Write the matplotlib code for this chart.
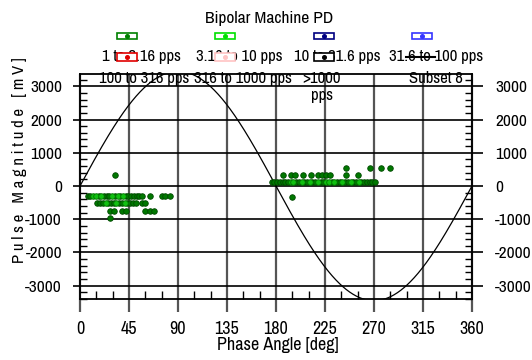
import numpy as np
import matplotlib
matplotlib.use("Agg")
import matplotlib.pyplot as plt
from matplotlib.patches import Rectangle
from matplotlib.ticker import MultipleLocator

plt.rcParams['font.family'] = ['Liberation Sans Narrow', 'Archivo Narrow', 'DejaVu Sans']

title = "Bipolar Machine PD"
x_label = "Phase Angle [deg]"
y_label = "Pulse Magnitude [mV]"

phase_ticks = [0, 45, 90, 135, 180, 225, 270, 315, 360]
mag_ticks = [-3000, -2000, -1000, 0, 1000, 2000, 3000]

legend_row1 = ["1 to 3.16 pps", "3.16 to 10 pps", "10 to 31.6 pps", "31.6 to 100 pps"]
legend_row2 = ["100 to 316 pps", "316 to 1000 pps", ">1000\npps", "Subset 8"]
colors_row1 = ["#008000", "#00e000", "#000080", "#3535ff"]
colors_row2 = ["#e00000", "#ffc4c4", "#000000", None]

# reference AC voltage, mV peak
sine_amp = 3450

# 1 to 3.16 pps
phase_a = [7, 9.5, 17, 22, 24.5, 27, 32, 37, 42, 44.5, 47, 49.5, 52, 54.5, 57, 64, 75, 78.5, 82.5,
           16, 18.5, 21, 26, 28.5, 31, 36, 38.5, 43.5, 46, 48.5, 51, 56.5, 60,
           27.5, 31.5, 38.5, 42, 60, 64, 68,
           32, 27.5,
           176, 178.5, 181, 183.5, 186, 188.5, 191, 198.5, 201, 206, 208.5, 213.5, 216, 221,
           223.5, 231, 236, 238.5, 243.5, 246, 251, 253.5, 258.5, 261, 263.5, 266, 268.5, 271,
           186.5, 193.5, 197.5, 205, 212, 219, 222, 225.5, 230, 244.5, 255.5,
           244.5, 266.5, 276, 285,
           194.5]
mag_a = [-300] * 19 + [-520] * 14 + [-740] * 7 + [330, -950] + [110] * 28 + [330] * 11 + [530] * 4 + [-320]

# 3.16 to 10 pps
phase_b = [12, 14.5, 19.5, 29.5, 34.5, 39.5,
           23.5, 33.5, 41,
           193.5, 196, 203.5, 211, 218.5, 226, 228.5, 233.5, 241, 248.5, 256]
mag_b = [-300] * 6 + [-520] * 3 + [110] * 11


def spaced(text, gap=" "):
    return gap.join(text)


fig = plt.figure(figsize=(5.32, 3.6), dpi=100)
W, H = 532, 360
ax = fig.add_axes([80 / W, 1 - 299 / H, 392 / W, 225 / H])
ax.set_xlim(0, 360)
ax.set_ylim(-3400, 3370)

# grid lines run past the frame
ax.vlines(phase_ticks, -3800, 3370, colors="#555555", lw=1.6, clip_on=False, zorder=1)
ax.hlines(mag_ticks, -6.5, 370, colors="black", lw=1.2, clip_on=False, zorder=1)

phase = np.linspace(0, 360, 721)
ax.plot(phase, sine_amp * np.sin(np.radians(phase)), color="black", lw=0.9, zorder=2)

ax.plot(phase_a, mag_a, "o", ms=4, mfc="#007800", mec="#004800", mew=0.6, zorder=4)
ax.plot(phase_b, mag_b, "o", ms=4, mfc="#10c010", mec="#007000", mew=0.6, zorder=4)

for s in ax.spines.values():
    s.set_linewidth(1.3)
    s.set_color("black")

ax.set_xticks(phase_ticks)
ax.set_xticklabels([str(v) for v in phase_ticks])
ax.set_yticks(mag_ticks)
ax.set_yticklabels([str(v) for v in mag_ticks])
ax.xaxis.set_minor_locator(MultipleLocator(15))
ax.yaxis.set_minor_locator(MultipleLocator(200))
ax.tick_params(which="major", length=0)
ax.tick_params(axis="x", which="major", pad=16, labelsize=13)
ax.tick_params(axis="y", which="major", labelsize=12.5, right=True, labelright=True)
ax.tick_params(which="minor", direction="in", width=1.0, color="black")
ax.tick_params(axis="x", which="minor", length=5.8, top=False)
ax.tick_params(axis="y", which="minor", length=5.2, left=True, right=True)
for t in ax.yaxis.get_major_ticks():
    t.label1.set_transform(ax.get_yaxis_transform())
    t.label1.set_x(-18 / 392)
    t.label1.set_horizontalalignment("right")
    t.label2.set_transform(ax.get_yaxis_transform())
    t.label2.set_x(1 + 23 / 392)
    t.label2.set_horizontalalignment("left")

fig.text(269 / W, 1 - 18.5 / H, title, ha="center", va="center", fontsize=12.5)
fig.text(278 / W, 1 - 345 / H, x_label, ha="center", va="center", fontsize=13)
fig.text(19.5 / W, 1 - 160 / H, spaced(y_label), rotation=90,
         ha="center", va="center", fontsize=12)

# legend, drawn in figure pixel space
lax = fig.add_axes([0, 0, 1, 1], zorder=5)
lax.set_xlim(0, W)
lax.set_ylim(H, 0)
lax.axis("off")
lax.patch.set_alpha(0)

col_x0, col_dx = 127, 98.3
row2_dx = [17, 18, -2, 14]
for i in range(4):
    cx = col_x0 + i * col_dx
    lax.text(cx + 14, 61, legend_row1[i], ha="center", va="baseline", fontsize=12, zorder=1)
    if i == 2:
        lax.text(cx + row2_dx[i], 71, legend_row2[i], ha="center", va="top", fontsize=12,
                 zorder=1, linespacing=1.2)
    else:
        lax.text(cx + row2_dx[i], 78.5, legend_row2[i], ha="center", va="center", fontsize=12,
                 zorder=1)
for i in range(4):
    cx = col_x0 + i * col_dx
    c = colors_row1[i]
    lax.add_patch(Rectangle((cx - 10, 32.5), 20, 6.5, fc="white", ec=c, lw=1.2, zorder=3))
    lax.plot(cx, 35.7, "o", ms=2.6, color=c, zorder=4)
    c = colors_row2[i]
    if c is None:
        lax.plot([cx - 16, cx + 13], [56.5, 56.5], color="black", lw=1.5, zorder=3)
    else:
        lax.add_patch(Rectangle((cx - 10, 52.5), 20, 8.5, fc="white", ec=c, lw=1.2, zorder=3))
        lax.plot(cx, 57, "o", ms=2.6, color=c, zorder=4)

fig.savefig("out.png", dpi=100)
